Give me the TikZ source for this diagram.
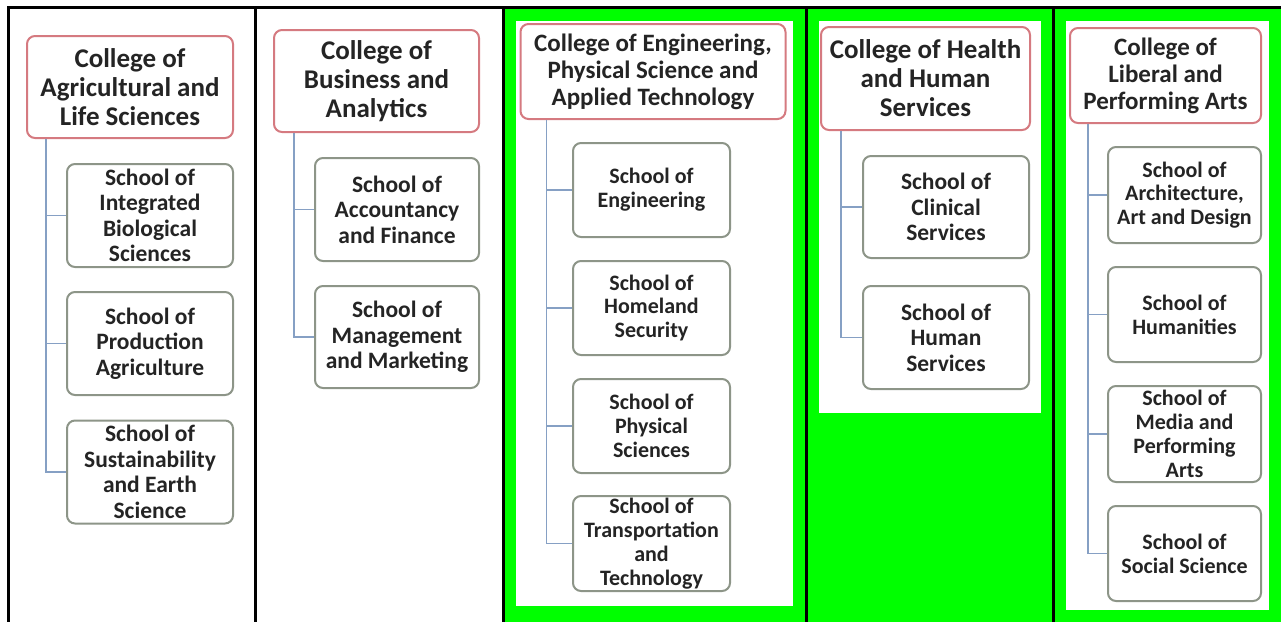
\documentclass[tikz,border=0pt]{standalone}
\usepackage{fontspec}
\setmainfont{Carlito}
\usepackage{xcolor}
\definecolor{rd}{HTML}{D57A80}
\definecolor{gg}{HTML}{8D9588}
\definecolor{bl}{HTML}{86A0C4}
\definecolor{tx}{HTML}{242424}
\definecolor{grn}{HTML}{00FF00}

\begin{document}
\begin{tikzpicture}[
      x = 0.5pt, y = -0.5pt, % one unit = one pixel of the page
      college/.style = {
        draw = rd, line width = 1pt, fill = white,
        rounded corners = 4pt, inner sep = 0pt,
        align = center, text = tx,
        font = \fontsize{13.5}{14.5}\selectfont\bfseries
      },
      school/.style = {
        draw = gg, line width = 1pt, fill = white,
        rounded corners = 4pt, inner sep = 0pt,
        align = center, text = tx,
        font = \fontsize{11.75}{12.75}\selectfont\bfseries
      },
      smallc/.style = {font = \fontsize{12.5}{13.5}\selectfont\bfseries},
      smalls/.style = {font = \fontsize{11}{11.9}\selectfont\bfseries},
      link/.style = {draw = bl, line width = 0.9pt},
      elbow/.style = {to path = {|- (\tikztotarget)}},
      frame/.style = {line width = 1.5pt},
    ]

    \useasboundingbox (0,0) rectangle (1281,622);

    % green columns
    \fill[grn] (505,9) rectangle (805,622);
    \fill[white] (516,21) rectangle (793,606);
    \fill[grn] (808,9) rectangle (1052,622);
    \fill[white] (819,21) rectangle (1041,413);
    \fill[grn] (1055,9) rectangle (1281,622);
    \fill[white] (1066,21) rectangle (1269,610);

    \draw[frame] (7,7.5) -- (1281,7.5);
    \foreach \x in {8.5, 255.5, 503.5, 806.5, 1053.5}
      \draw[frame] (\x,6) -- (\x,622);

    % column 1
    \node[college, minimum width = 103pt, minimum height = 51pt] (agri) [at={(130,87)}]
      {College of\\Agricultural and\\Life Sciences};
    \node[school, minimum width = 83pt, minimum height = 51.5pt] (ag1) [at={(150,215.5)}]
      {School of\\Integrated\\Biological\\Sciences};
    \node[school, minimum width = 83pt, minimum height = 51.5pt] (ag2) [at={(150,343.5)}]
      {School of\\Production\\Agriculture};
    \node[school, minimum width = 83pt, minimum height = 51.5pt] (ag3) [at={(150,472)}]
      {School of\\Sustainability\\and Earth\\Science};

    % column 2
    \node[college, minimum width = 102.5pt, minimum height = 51pt] (bus) [at={(376.5,81)}]
      {College of\\Business and\\Analytics};
    \node[school, minimum width = 82pt, minimum height = 51.5pt] (bu1) [at={(397,209.5)}]
      {School of\\Accountancy\\and Finance};
    \node[school, minimum width = 82pt, minimum height = 51pt] (bu2) [at={(397,337)}]
      {School of\\Management\\and Marketing};

    % column 3
    \node[college, smallc, minimum width = 132.5pt, minimum height = 47.5pt] (eng) [at={(653,71.5)}]
      {College of Engineering,\\Physical Science and\\Applied Technology};
    \node[school, smalls, minimum width = 78.5pt, minimum height = 47pt] (en1) [at={(651.5,190)}]
      {School of\\Engineering};
    \node[school, smalls, minimum width = 78.5pt, minimum height = 47pt] (en2) [at={(651.5,308)}]
      {School of\\Homeland\\Security};
    \node[school, smalls, minimum width = 78.5pt, minimum height = 47pt] (en3) [at={(651.5,426)}]
      {School of\\Physical\\Sciences};
    \node[school, smalls, minimum width = 78.5pt, minimum height = 47.5pt] (en4) [at={(651.5,543.5)}]
      {School of\\Transportation\\and\\Technology};

    % column 4
    \node[college, minimum width = 104.5pt, minimum height = 51.5pt] (hhs) [at={(925.5,78.5)}]
      {College of Health\\and Human\\Services};
    \node[school, minimum width = 83pt, minimum height = 51pt] (hh1) [at={(946,207)}]
      {School of\\Clinical\\Services};
    \node[school, minimum width = 83pt, minimum height = 51.5pt] (hh2) [at={(946,337.5)}]
      {School of\\Human\\Services};

    % column 5
    \node[college, smallc, minimum width = 95.5pt, minimum height = 47.5pt] (lpa) [at={(1165.5,75.5)}]
      {College of\\Liberal and\\Performing Arts};
    \node[school, smalls, minimum width = 76.5pt, minimum height = 48pt] (lp1) [at={(1184.5,195)}]
      {School of\\Architecture,\\Art and Design};
    \node[school, smalls, minimum width = 76.5pt, minimum height = 47.5pt] (lp2) [at={(1184.5,314.5)}]
      {School of\\Humanities};
    \node[school, smalls, minimum width = 76.5pt, minimum height = 48pt] (lp3) [at={(1184.5,434)}]
      {School of\\Media and\\Performing\\Arts};
    \node[school, smalls, minimum width = 76.5pt, minimum height = 47.5pt] (lp4) [at={(1184.5,553.5)}]
      {School of\\Social Science};

    \coordinate (agT) at ([xshift=10pt]agri.south west);
    \coordinate (buT) at ([xshift=10.5pt]bus.south west);
    \coordinate (enT) at ([xshift=13.5pt]eng.south west);
    \coordinate (hhT) at ([xshift=10.5pt]hhs.south west);
    \coordinate (lpT) at ([xshift=9.5pt]lpa.south west);

    \path[link] (agT) edge[elbow] (ag1) edge[elbow] (ag2) edge[elbow] (ag3);
    \path[link] (buT) edge[elbow] (bu1) edge[elbow] (bu2);
    \path[link] (enT) edge[elbow] (en1) edge[elbow] (en2) edge[elbow] (en3) edge[elbow] (en4);
    \path[link] (hhT) edge[elbow] (hh1) edge[elbow] (hh2);
    \path[link] (lpT) edge[elbow] (lp1) edge[elbow] (lp2) edge[elbow] (lp3) edge[elbow] (lp4);
  \end{tikzpicture}
\end{document}
